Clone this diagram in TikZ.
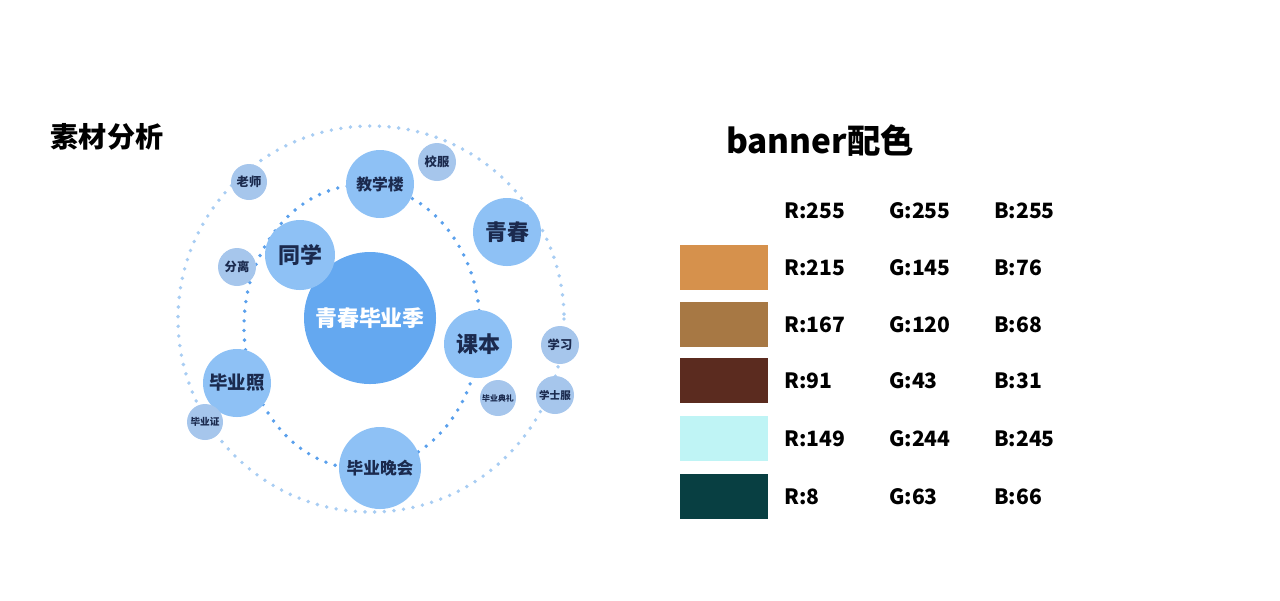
\documentclass[tikz,border=0pt]{standalone}
\usepackage{fontspec}
\setmainfont{Noto Sans CJK SC}
\begin{document}
\begin{tikzpicture}[x=0.02cm,y=-0.02cm,
  bub/.style={circle,fill=#1,inner sep=0pt,font=\bfseries,text=txt},
  ring/.style={line width=2.2pt,line cap=round,dash pattern=on 0pt off 5.5pt},
  val/.style={anchor=west,font=\bfseries\fontsize{12}{14}\selectfont},
  swatch/.style={fill=#1,draw=none}]
\definecolor{txt}{HTML}{1B2A4E}
\definecolor{bigc}{HTML}{64A8F0}
\definecolor{midc}{HTML}{8EC1F5}
\definecolor{lowc}{HTML}{A6C6EC}
\definecolor{ringin}{HTML}{5AA0EC}
\definecolor{ringout}{HTML}{A8CDF3}
\useasboundingbox (0,0) rectangle (1280,600);
% titles
\node[font=\bfseries\fontsize{16}{18}\selectfont] (t1) at (107,137) {素材分析};
\node[font=\bfseries\fontsize{19}{22}\selectfont] (t2) at (820,141) {banner配色};
% rings
\draw[ring,ringout] (371,319) circle [radius=193];
\draw[ring,ringin] (362,327) ellipse [x radius=118,y radius=142];
% bubbles
\node[bub=bigc,minimum size=132*0.02cm,text=white,font=\bfseries\fontsize{12.5}{14}\selectfont] (main) at (370,318) {青春毕业季};
\node[bub=midc,minimum size=70*0.02cm,font=\bfseries\fontsize{12.5}{14}\selectfont] (tx) at (300,255) {同学};
\node[bub=midc,minimum size=68*0.02cm,font=\bfseries\fontsize{9}{10}\selectfont] (jxl) at (380,184) {教学楼};
\node[bub=midc,minimum size=68*0.02cm,font=\bfseries\fontsize{12.5}{14}\selectfont] (qc) at (507,232) {青春};
\node[bub=midc,minimum size=68*0.02cm,font=\bfseries\fontsize{12.5}{14}\selectfont] (kb) at (478,344) {课本};
\node[bub=midc,minimum size=68*0.02cm,font=\bfseries\fontsize{10.5}{12}\selectfont] (byz) at (237,383) {毕业照};
\node[bub=midc,minimum size=82*0.02cm,font=\bfseries\fontsize{9.5}{11}\selectfont] (bywh) at (380,468) {毕业晚会};
\node[bub=lowc,minimum size=36*0.02cm,font=\bfseries\fontsize{7}{8}\selectfont] (ls) at (249,182) {老师};
\node[bub=lowc,minimum size=38*0.02cm,font=\bfseries\fontsize{7}{8}\selectfont] (xf) at (437,162) {校服};
\node[bub=lowc,minimum size=38*0.02cm,font=\bfseries\fontsize{7}{8}\selectfont] (fl) at (237,267) {分离};
\node[bub=lowc,minimum size=38*0.02cm,font=\bfseries\fontsize{7}{8}\selectfont] (xx) at (560,345) {学习};
\node[bub=lowc,minimum size=38*0.02cm,font=\bfseries\fontsize{6}{7}\selectfont] (xsf) at (555,395) {学士服};
\node[bub=lowc,minimum size=36*0.02cm,font=\bfseries\fontsize{4.5}{5}\selectfont] (bydl) at (498,398) {毕业典礼};
\node[bub=lowc,minimum size=36*0.02cm,font=\bfseries\fontsize{5.5}{6}\selectfont] (byzh) at (205,422) {毕业证};
% colour table
\foreach \y/\c/\r/\g/\b in {268/D6914C/215/145/76, 325/A77844/167/120/68, 381/5B2B1F/91/43/31, 439/BFF4F5/149/244/245, 497/083F42/8/63/66}{
  \definecolor{sw}{HTML}{\c}
  \fill[swatch=sw] (680,\y-23) rectangle (768,\y+22);
}
\foreach \y/\r/\g/\b in {211/255/255/255, 268/215/145/76, 325/167/120/68, 381/91/43/31, 439/149/244/245, 497/8/63/66}{
  \node[val] at (778,\y) {R:\r};
  \node[val] at (883,\y) {G:\g};
  \node[val] at (988,\y) {B:\b};
}
\end{tikzpicture}
\end{document}
